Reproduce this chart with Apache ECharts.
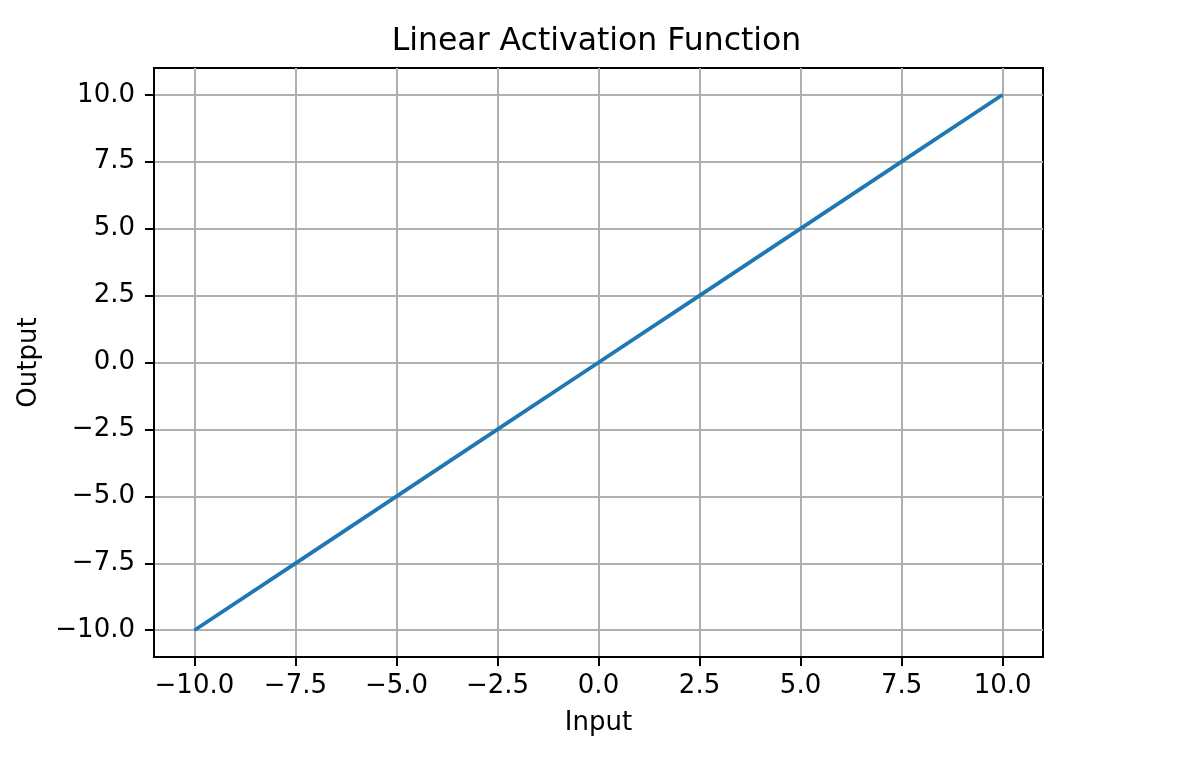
<!DOCTYPE html>
<html>
<head>
<meta charset="utf-8">
<script src="https://cdn.jsdelivr.net/npm/echarts@6/dist/echarts.min.js"></script>
<style>
html,body{margin:0;padding:0;background:#fff;}
#chart{width:1200px;height:757px;}
</style>
</head>
<body>
<div id="chart"></div>
<script>
const inputValues = [-10, -7.5, -5, -2.5, 0, 2.5, 5, 7.5, 10];
const outputValues = [-10, -7.5, -5, -2.5, 0, 2.5, 5, 7.5, 10];
const xTicks = [-10, -7.5, -5, -2.5, 0, 2.5, 5, 7.5, 10];
const yTicks = [-10, -7.5, -5, -2.5, 0, 2.5, 5, 7.5, 10];

const FONT = 'DejaVu Sans';
function fmt(v){ return v.toFixed(1).replace('-', '\u2212'); }

const chart = echarts.init(document.getElementById('chart'));
chart.setOption({
  animation: false,
  backgroundColor: '#fff',
  title: {
    text: 'Linear Activation Function',
    left: 591.5,
    textAlign: 'center',
    top: 21,
    textStyle: { fontFamily: FONT, fontSize: 31.5, fontWeight: 'normal', color: '#000' }
  },
  grid: {
    left: 154, top: 68, width: 889, height: 589,
    show: true, borderColor: '#000', borderWidth: 2, backgroundColor: 'transparent'
  },
  xAxis: {
    type: 'value', min: -11, max: 11,
    name: 'Input', nameLocation: 'middle', nameGap: 53,
    nameTextStyle: { fontFamily: FONT, fontSize: 26, color: '#000' },
    axisLine: { show: true, onZero: false, lineStyle: { color: '#000', width: 2 } },
    axisTick: { show: true, inside: false, length: 9, customValues: xTicks, lineStyle: { color: '#000', width: 2 } },
    axisLabel: { show: true, margin: 16, customValues: xTicks, formatter: fmt,
      fontFamily: FONT, fontSize: 26, color: '#000' },
    splitLine: { show: true, lineStyle: { color: '#b0b0b0', width: 2 } }
  },
  yAxis: {
    type: 'value', min: -11, max: 11,
    name: 'Output', nameLocation: 'middle', nameGap: 112, nameRotate: 90,
    nameTextStyle: { fontFamily: FONT, fontSize: 26, color: '#000' },
    axisLine: { show: true, onZero: false, lineStyle: { color: '#000', width: 2 } },
    axisTick: { show: true, inside: false, length: 9, customValues: yTicks, lineStyle: { color: '#000', width: 2 } },
    axisLabel: { show: true, margin: 19, customValues: yTicks, formatter: fmt,
      fontFamily: FONT, fontSize: 26, color: '#000' },
    splitLine: { show: true, lineStyle: { color: '#b0b0b0', width: 2 } }
  },
  series: [{
    type: 'line',
    data: inputValues.map((x, i) => [x, outputValues[i]]),
    showSymbol: false,
    symbol: 'none',
    lineStyle: { color: '#1f77b4', width: 3.8 },
    z: 5
  }]
});
</script>
</body>
</html>
